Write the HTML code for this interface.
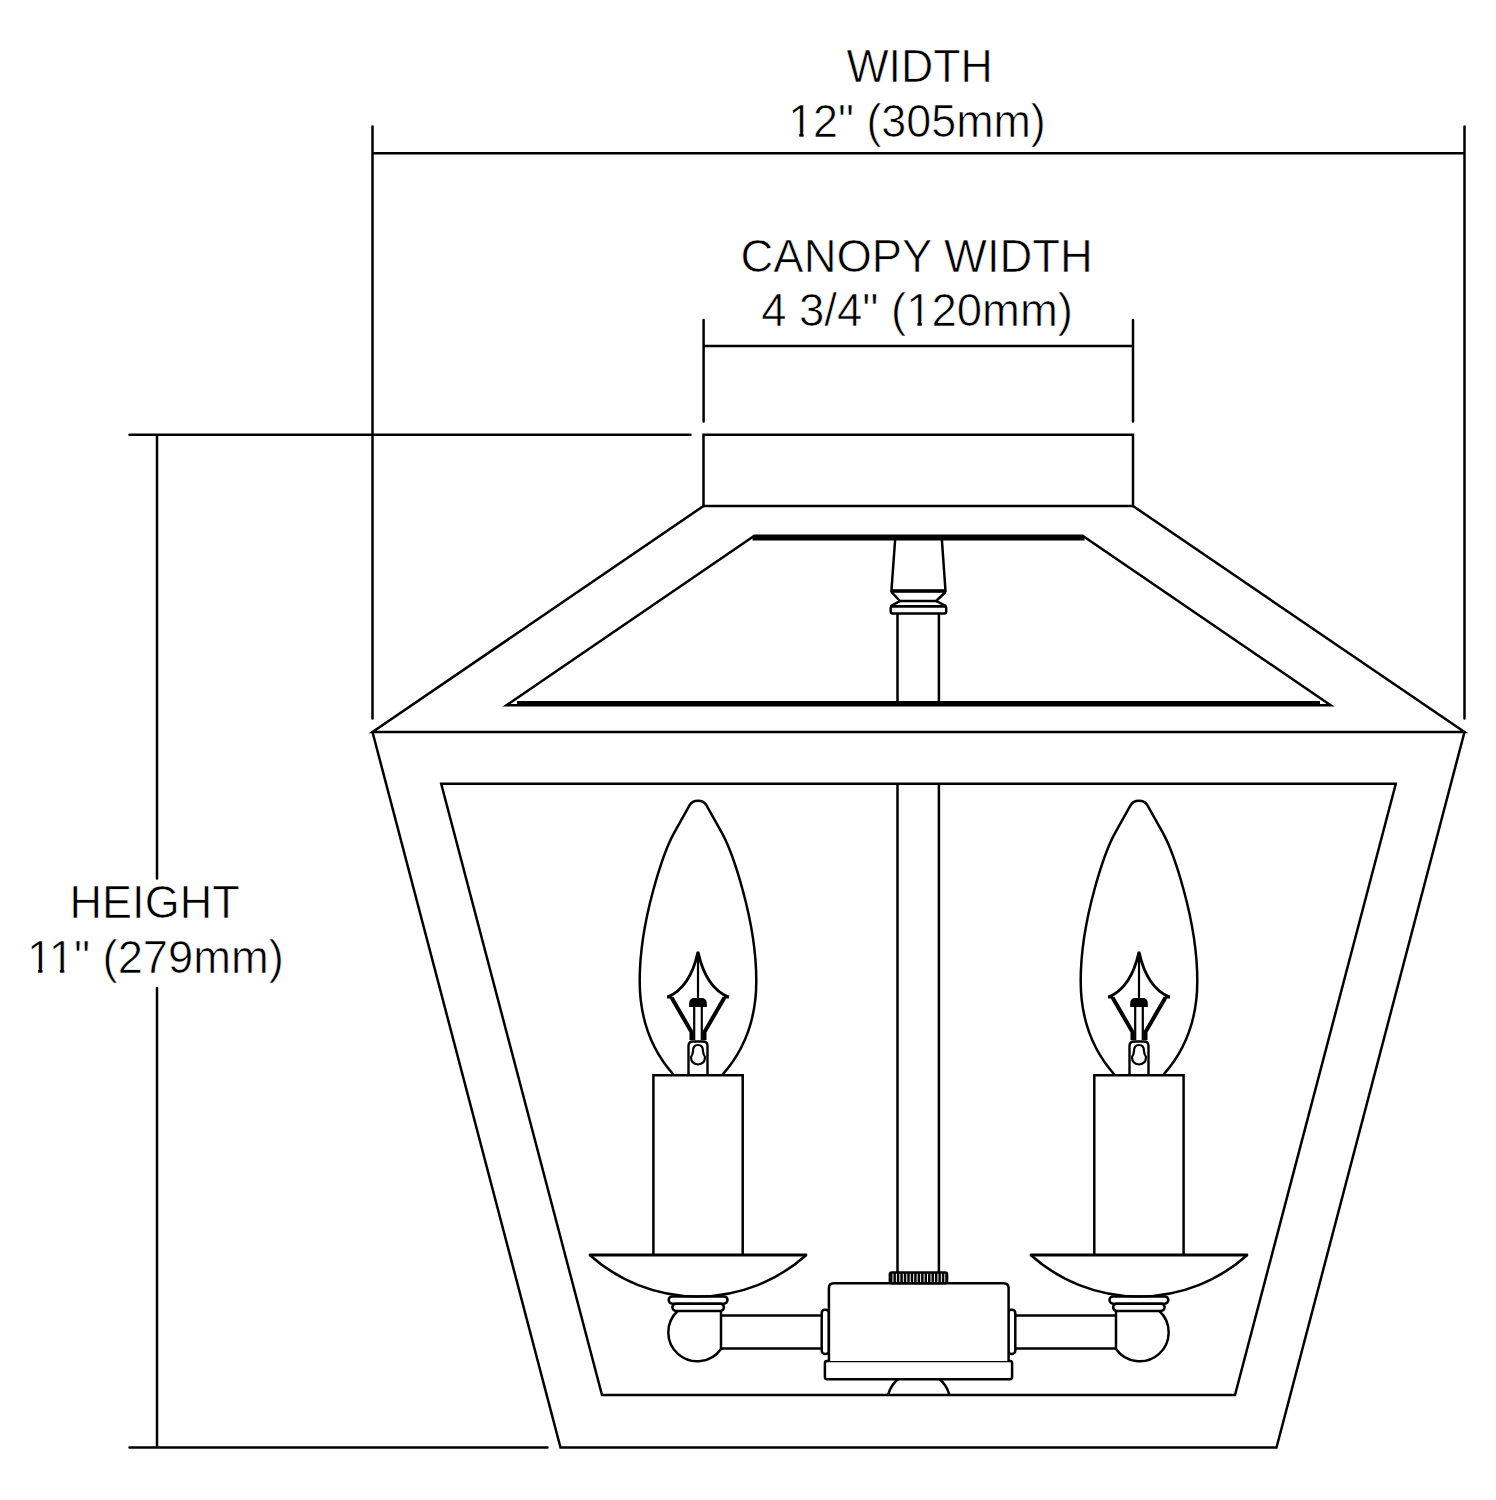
<!DOCTYPE html>
<html>
<head>
<meta charset="utf-8">
<style>
html,body{margin:0;padding:0;background:#fff;}
body{width:1496px;height:1500px;overflow:hidden;}
svg{display:block;}
text{font-family:"Liberation Sans",sans-serif;fill:#000;}
</style>
</head>
<body>
<svg width="1496" height="1500" viewBox="0 0 1496 1500">
<rect width="1496" height="1500" fill="#fff"/>
<g fill="none" stroke="#000" stroke-width="2.5" stroke-linejoin="miter" stroke-linecap="butt">
  <!-- dimension lines -->
  <g stroke-linecap="round">
  <path d="M372.5,126.5V718.5 M372.5,153.3H1464.5 M1464.5,126.5V718.5"/>
  <path d="M703.6,320V421.5 M703.6,346H1133 M1133,320V421.5"/>
  <path d="M129.5,434.8H690.5 M157,434.8V878.5 M157,988V1447.6 M129.5,1447.6H547.5"/>
  </g>
  <!-- canopy -->
  <path d="M703.5,434.8H1133V506H703.5Z"/>
  <!-- outer top trapezoid -->
  <path d="M703.5,506L372.5,732H1464.5L1133,506"/>
  <!-- inner top trapezoid -->
  <path d="M506.4,705.3 L754.4,535.7 H1082.6 L1330.6,705.3 Z"/>
  <path d="M752.5,538.6 H1084.5" stroke-width="4"/>
  <path d="M517,702.8 H1320" stroke-width="3.6"/>
  <!-- body -->
  <path d="M372.5,732L560.5,1447.6H1276.5L1464.5,732"/>
  <path d="M441.2,783.8H1395.8L1235,1395H602Z"/>
  <!-- rod -->
  <path d="M897.5,613.6V703.6 M938.9,613.6V703.6 M897.5,783.8V1272.5 M938.9,783.8V1272.5"/>
  <!-- finial -->
  <path d="M895.1,540 L891.4,591 H945.5 L941.9,540"/>
  <path d="M891.4,591 H945.5" stroke-width="3.5"/>
  <path d="M891.4,592 L900.1,601 H936.2 L945.5,592"/>
  <path d="M900.1,601 L890.7,606.2 H946.2 L936.2,601"/>
  <rect x="890.7" y="606.2" width="55.5" height="7.4" rx="2"/>
  <!-- bulbs etc, left and mirrored right -->
  <g id="L">
  <path d="M673.4,1074.5 C654.19,1052.97 639.7,1022.99 639.7,981 C639.7,918.6 664.51,850.19 674.25,832.73 L689.5,805.4 C691.7,801.5 694.5,800.8 698,800.8 C701.5,800.8 704.3,801.5 706.5,805.4 L721.75,832.73 C731.49,850.19 756.3,918.6 756.3,981 C756.3,1022.99 741.81,1052.97 722.6,1074.5"/>
  <!-- filament -->
  <path d="M698,951.5 V999" stroke-width="2.2"/>
  <path d="M698,952 Q690,988 667.5,997 M698,952 Q706,988 728.5,997" stroke-width="2.9"/>
  <path d="M667,997 h5 M729,997 h-5" stroke-width="3"/>
  <path d="M671.5,997.5 L691.5,1032 V1040 M724.5,997.5 L704.5,1032 V1040" stroke-width="4"/>
  <path d="M689.8,1006.3 V1003.5 Q689.8,998.6 694.5,998.6 H701.5 Q706.2,998.6 706.2,1003.5 V1006.3 Z" fill="#000" stroke-width="1.2"/>
  <path d="M694.2,1006 V1040 M701.8,1006 V1040" stroke-width="2.2"/>
  <path d="M688.5,1075 V1046 Q688.5,1041.5 693,1041.5 H703 Q707.5,1041.5 707.5,1046 V1075" stroke-width="2.4"/>
  <path d="M693,1051 Q693,1045 698,1045 Q703,1045 703,1051 Q703,1054 705,1057 Q705,1064 698,1064.5 Q691,1064 691,1057 Q693,1054 693,1051 Z" stroke-width="2.2"/>
  <!-- candle -->
  <path d="M653.4,1255 V1075.2 H742.7 V1255"/>
  <!-- cup -->
  <path d="M590,1255 H806" stroke-width="2.8" stroke-linecap="round"/>
  <path d="M590,1255.2 A161.9,161.9 0 0 0 806,1255.2"/>
  <!-- rings -->
  <rect x="668.7" y="1296.4" width="58.8" height="7.3" rx="3.6"/>
  <rect x="672.4" y="1303.7" width="51.5" height="7.2" rx="3.6"/>
  <!-- ball -->
  <path d="M677.6,1311 A29,29 0 1 0 721,1349 V1311"/>
  <!-- arm -->
  <path d="M721,1315.5 H822 M721,1348.4 H822"/>
  <rect x="821.7" y="1309.8" width="7.2" height="44.1" rx="3.2"/>
</g>
  <g transform="translate(1837.0,0) scale(-1,1)">
  <path d="M673.4,1074.5 C654.19,1052.97 639.7,1022.99 639.7,981 C639.7,918.6 664.51,850.19 674.25,832.73 L689.5,805.4 C691.7,801.5 694.5,800.8 698,800.8 C701.5,800.8 704.3,801.5 706.5,805.4 L721.75,832.73 C731.49,850.19 756.3,918.6 756.3,981 C756.3,1022.99 741.81,1052.97 722.6,1074.5"/>
  <!-- filament -->
  <path d="M698,951.5 V999" stroke-width="2.2"/>
  <path d="M698,952 Q690,988 667.5,997 M698,952 Q706,988 728.5,997" stroke-width="2.9"/>
  <path d="M667,997 h5 M729,997 h-5" stroke-width="3"/>
  <path d="M671.5,997.5 L691.5,1032 V1040 M724.5,997.5 L704.5,1032 V1040" stroke-width="4"/>
  <path d="M689.8,1006.3 V1003.5 Q689.8,998.6 694.5,998.6 H701.5 Q706.2,998.6 706.2,1003.5 V1006.3 Z" fill="#000" stroke-width="1.2"/>
  <path d="M694.2,1006 V1040 M701.8,1006 V1040" stroke-width="2.2"/>
  <path d="M688.5,1075 V1046 Q688.5,1041.5 693,1041.5 H703 Q707.5,1041.5 707.5,1046 V1075" stroke-width="2.4"/>
  <path d="M693,1051 Q693,1045 698,1045 Q703,1045 703,1051 Q703,1054 705,1057 Q705,1064 698,1064.5 Q691,1064 691,1057 Q693,1054 693,1051 Z" stroke-width="2.2"/>
  <!-- candle -->
  <path d="M653.4,1255 V1075.2 H742.7 V1255"/>
  <!-- cup -->
  <path d="M590,1255 H806" stroke-width="2.8" stroke-linecap="round"/>
  <path d="M590,1255.2 A161.9,161.9 0 0 0 806,1255.2"/>
  <!-- rings -->
  <rect x="668.7" y="1296.4" width="58.8" height="7.3" rx="3.6"/>
  <rect x="672.4" y="1303.7" width="51.5" height="7.2" rx="3.6"/>
  <!-- ball -->
  <path d="M677.6,1311 A29,29 0 1 0 721,1349 V1311"/>
  <!-- arm -->
  <path d="M721,1315.5 H822 M721,1348.4 H822"/>
  <rect x="821.7" y="1309.8" width="7.2" height="44.1" rx="3.2"/>
</g>
  <!-- centre box -->
  <path d="M888,1395 A31.9,31.9 0 0 1 949.5,1395"/>
  <rect x="824.9" y="1361.1" width="187.2" height="18.2" rx="2.2" fill="#fff"/>
  <path d="M828.9,1361.1 V1288.3 Q828.9,1283.3 833.9,1283.3 H1003.6 Q1008.6,1283.3 1008.6,1288.3 V1361.1" fill="#fff"/>
  <rect x="889.85" y="1272.5" width="57.2" height="10.8" rx="2" fill="#fff"/>
  <path d="M891.20,1273 V1283 M894.66,1273 V1283 M898.12,1273 V1283 M901.58,1273 V1283 M905.04,1273 V1283 M908.50,1273 V1283 M911.96,1273 V1283 M915.42,1273 V1283 M918.88,1273 V1283 M922.34,1273 V1283 M925.80,1273 V1283 M929.26,1273 V1283 M932.72,1273 V1283 M936.18,1273 V1283 M939.64,1273 V1283 M943.10,1273 V1283 M946.56,1273 V1283" stroke-width="2.5"/>
</g>
<g font-size="46.4" stroke="#fff" stroke-width="0.7">
  <text x="846.40" y="82.35" textLength="146.34" lengthAdjust="spacingAndGlyphs">WIDTH</text>
  <text x="788.18" y="137.1" textLength="257.60" lengthAdjust="spacingAndGlyphs">12&quot; (305mm)</text>
  <text x="740.60" y="271.7" textLength="352.19" lengthAdjust="spacingAndGlyphs">CANOPY WIDTH</text>
  <text x="761.16" y="326" textLength="311.76" lengthAdjust="spacingAndGlyphs">4 3/4&quot; (120mm)</text>
  <text x="69.61" y="917.7" textLength="170.02" lengthAdjust="spacingAndGlyphs">HEIGHT</text>
  <text x="26.89" y="972.7" textLength="256.98" lengthAdjust="spacingAndGlyphs">11&quot; (279mm)</text>
</g>
<g fill="#fff">
  <rect x="790.46" y="132.73" width="8.79" height="5.47"/>
  <rect x="803.62" y="132.73" width="8.44" height="5.47"/>
  <rect x="908.50" y="321.63" width="8.91" height="5.47"/>
  <rect x="921.84" y="321.63" width="8.56" height="5.47"/>
  <rect x="29.21" y="968.33" width="8.89" height="5.47"/>
  <rect x="42.51" y="968.33" width="8.53" height="5.47"/>
  <rect x="51.04" y="968.33" width="8.89" height="5.47"/>
  <rect x="64.33" y="968.33" width="8.53" height="5.47"/>
</g>
</svg>
</body>
</html>
